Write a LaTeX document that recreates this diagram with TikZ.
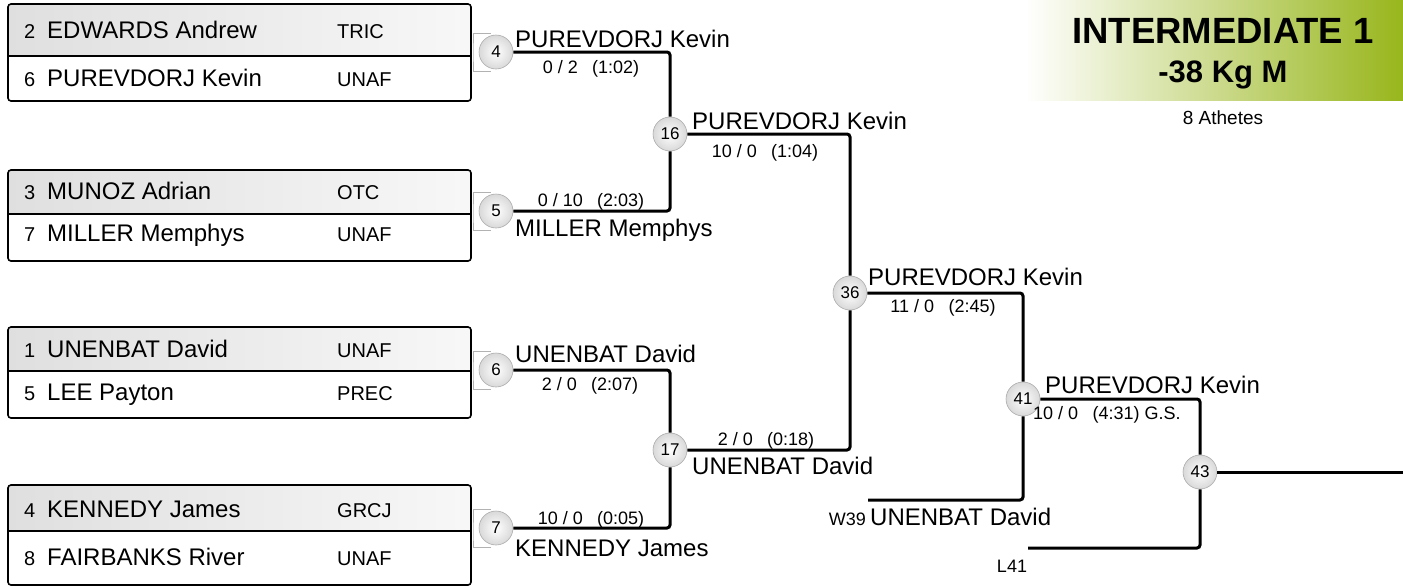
\documentclass[tikz,border=0pt]{standalone}
\usepackage{fontspec}
\setmainfont{Liberation Sans}
\usepackage{tikz}
\usetikzlibrary{calc,backgrounds}
\definecolor{titlegreen}{RGB}{152,182,28}

\tikzset{
  entrybox/.style={draw=black, line width=1.6pt, rounded corners=3pt},
  bout/.style={circle, draw=gray!65, line width=0.6pt, inner color=white, outer color=gray!30,
    minimum size=34pt, inner sep=0pt, font=\fontsize{17}{17}\selectfont},
  winline/.style={line width=3pt, rounded corners=3pt},
  feed/.style={draw=gray!60, line width=1pt},
  athlete/.style={anchor=base west, inner sep=0pt, font=\fontsize{24}{24}\selectfont},
  club/.style={anchor=base west, inner sep=0pt, font=\fontsize{20}{20}\selectfont},
  score/.style={anchor=base, inner sep=0pt, font=\fontsize{18}{18}\selectfont},
}

\begin{document}
\begin{tikzpicture}[x=1pt,y=-1pt]
\useasboundingbox (0,0) rectangle (1403,587);

% title block
\shade[left color=white, right color=titlegreen] (1025,0) rectangle (1403,100);
\node[anchor=base, inner sep=0pt, font=\fontsize{36.5}{36.5}\selectfont\bfseries] (title) at (1223,43) {INTERMEDIATE 1};
\node[anchor=base, inner sep=0pt, font=\fontsize{31}{31}\selectfont\bfseries] (weight) at (1223,82) {-38 Kg M};
\node[anchor=base, inner sep=0pt, font=\fontsize{19}{19}\selectfont] (count) at (1223,124) {8 Athetes};

% entry boxes
\foreach \n/\t/\m/\b/\ya/\yb/\sa/\na/\ca/\sb/\nb/\cb in {
    1/4/56/101/38/86/2/EDWARDS Andrew/TRIC/6/PUREVDORJ Kevin/UNAF,
    2/170/214/261/199/241/3/MUNOZ Adrian/OTC/7/MILLER Memphys/UNAF,
    3/327/371/418/357/400/1/UNENBAT David/UNAF/5/LEE Payton/PREC,
    4/485/531/585/517/565/4/KENNEDY James/GRCJ/8/FAIRBANKS River/UNAF} {
  \shade[left color=gray!25, right color=gray!6, rounded corners=3pt] (8,\t) rectangle (471,\m);
  \draw[line width=1.6pt] (8,\m) -- (471,\m);
  \draw[entrybox] (8,\t) rectangle (471,\b);
  \node[club] (seeda\n) at (24,\ya) {\sa};
  \node[athlete] (namea\n) at (47,\ya) {\na};
  \node[club] (cluba\n) at (337,\ya) {\ca};
  \node[club] (seedb\n) at (24,\yb) {\sb};
  \node[athlete] (nameb\n) at (47,\yb) {\nb};
  \node[club] (clubb\n) at (337,\yb) {\cb};
  \coordinate (b\n) at (473,{(\t+\b)/2});
}

% bouts
\node[bout] (m4) at (496,52) {4};
\node[bout] (m5) at (496,211) {5};
\node[bout] (m6) at (496,370) {6};
\node[bout] (m7) at (496,528) {7};
\node[bout] (m16) at (670,134) {16};
\node[bout] (m17) at (670,450) {17};
\node[bout] (m36) at (850,293) {36};
\node[bout] (m41) at (1023,399) {41};
\node[bout] (m43) at (1200,472) {43};

\coordinate (w39) at (868,500);
\coordinate (l41) at (1028,548);
\coordinate (fin) at (1403,472);

\begin{scope}[on background layer]
  \foreach \n/\m in {1/4,2/5,3/6,4/7}
    \draw[feed] ($(m\m)+(-5,-19)$) -| (b\n) |- ($(m\m)+(-5,19)$);
\end{scope}

\draw[winline] (m4) -- (m4 -| m16) -- (m16);
\draw[winline] (m5) -- (m5 -| m16) -- (m16);
\draw[winline] (m6) -- (m6 -| m17) -- (m17);
\draw[winline] (m7) -- (m7 -| m17) -- (m17);
\draw[winline] (m16) -- (m16 -| m36) -- (m36);
\draw[winline] (m17) -- (m17 -| m36) -- (m36);
\draw[winline] (m36) -- (m36 -| m41) -- (m41);
\draw[winline] (w39) -- (w39 -| m41) -- (m41);
\draw[winline] (m41) -- (m41 -| m43) -- (m43);
\draw[winline] (l41) -- (l41 -| m43) -- (m43);
\draw[winline] (m43) -- (fin);

% winners and scores
\node[athlete] (win4) at (515,47) {PUREVDORJ Kevin};
\node[score] (score4) at (591,73) {0 / 2\hspace{.8em}(1:02)};
\node[athlete] (win5) at (515,236) {MILLER Memphys};
\node[score] (score5) at (591,206) {0 / 10\hspace{.8em}(2:03)};
\node[athlete] (win6) at (515,362) {UNENBAT David};
\node[score] (score6) at (590,390) {2 / 0\hspace{.8em}(2:07)};
\node[athlete] (win7) at (515,556) {KENNEDY James};
\node[score] (score7) at (591,524) {10 / 0\hspace{.8em}(0:05)};
\node[athlete] (win16) at (692,129) {PUREVDORJ Kevin};
\node[score] (score16) at (765,157) {10 / 0\hspace{.8em}(1:04)};
\node[athlete] (win17) at (692,474) {UNENBAT David};
\node[score] (score17) at (766,445) {2 / 0\hspace{.8em}(0:18)};
\node[athlete] (win36) at (868,285) {PUREVDORJ Kevin};
\node[score] (score36) at (943,312) {11 / 0\hspace{.8em}(2:45)};
\node[athlete] (win41) at (1045,393) {PUREVDORJ Kevin};
\node[score, anchor=base west] (score41) at (1033,419) {10 / 0\hspace{.8em}(4:31) G.S.};
\node[score, anchor=base east] (from39) at (866,525) {W39};
\node[athlete] (name39) at (870,525) {UNENBAT David};
\node[score] (from41) at (1012,572) {L41};
\end{tikzpicture}
\end{document}
